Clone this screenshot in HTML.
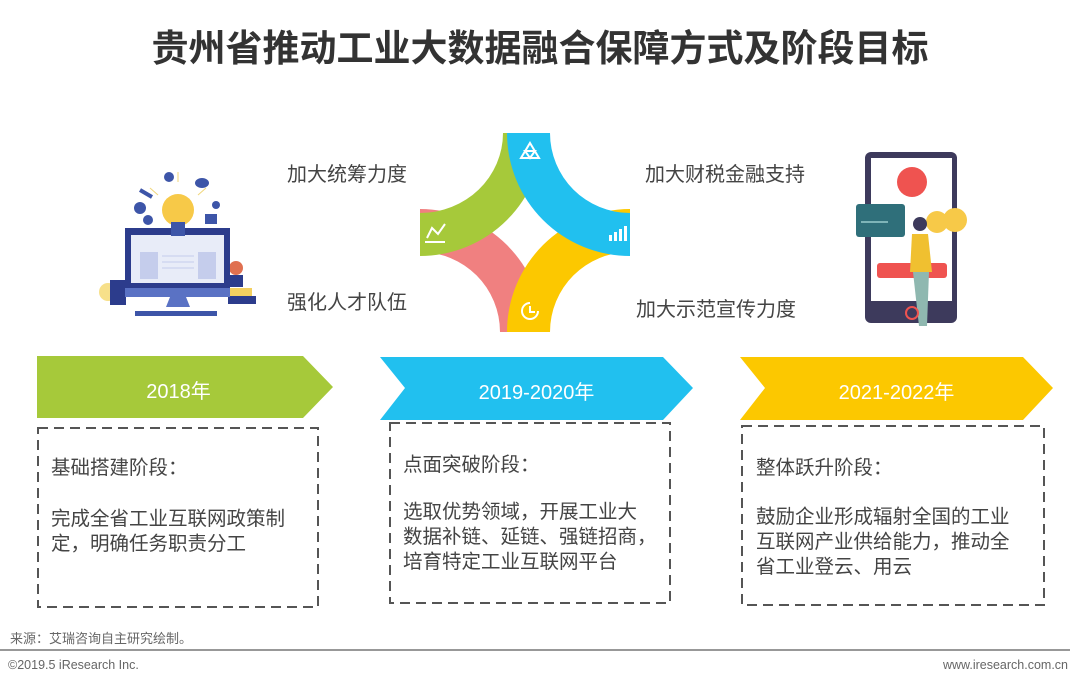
<!DOCTYPE html>
<html><head><meta charset="utf-8"><style>
body{margin:0;width:1080px;height:681px;background:#fff;position:relative;overflow:hidden;font-family:"Liberation Sans","Noto Sans CJK SC",sans-serif;color:#444}
.t{position:absolute;white-space:nowrap}
.lab{font-size:20px;color:#444}
.bx{font-size:19.5px;line-height:25px;color:#444}
</style></head><body>
<svg width="1080" height="681" style="position:absolute;left:0;top:0">
<defs><clipPath id="sq"><rect x="420" y="133" width="210" height="199"/></clipPath></defs>
<g clip-path="url(#sq)">
<path d="M420,252 A80 80 0 0 1 500,332 L543,332 A123 123 0 0 0 420,209 Z" fill="#f08080"/>
<path d="M630,252 A80 80 0 0 0 550,332 L507,332 A123 123 0 0 1 630,209 Z" fill="#fcc800"/>
<path d="M503,133 A83 80 0 0 1 420,213 L420,256 A123 123 0 0 0 543,133 Z" fill="#a6c93a"/>
<path d="M550,133 A80 80 0 0 0 630,213 L630,256 A123 123 0 0 1 507,133 Z" fill="#21c0ef"/>
</g>
<g stroke="#fff" stroke-width="2" fill="none">
<path d="M530,143 L539,158 L521,158 Z M525,151 L535,151 L530,158 Z"/>
<path d="M425,242 L445,242 M427,238 L432,228 L438,234 L445,224"/>
<path d="M530,303 A8 8 0 1 0 538,311 M530,306 L530,312 L535,312"/>
</g>
<g fill="#fff"><rect x="609" y="235" width="3" height="6"/><rect x="614" y="232" width="3" height="9"/><rect x="619" y="229" width="3" height="12"/><rect x="624" y="226" width="3" height="15"/></g>
<path d="M37,356 L303,356 L333,387 L303,418 L37,418 Z" fill="#a6c93a"/>
<path d="M380,357 L663,357 L693,388 L663,420 L380,420 L405,388 Z" fill="#21c0ef"/>
<path d="M740,357 L1023,357 L1053,388 L1023,420 L740,420 L765,388 Z" fill="#fcc800"/>
<g fill="none" stroke="#555" stroke-width="2" stroke-dasharray="10,6">
<rect x="38" y="428" width="280" height="179"/>
<rect x="390" y="423" width="280" height="180"/>
<rect x="742" y="426" width="302" height="179"/>
</g>
<line x1="0" y1="650" x2="1070" y2="650" stroke="#777" stroke-width="1.5"/>
<g>
<g stroke="#f0d67a" stroke-width="1"><line x1="178" y1="182" x2="178" y2="172"/><line x1="158" y1="195" x2="150" y2="188"/><line x1="198" y1="195" x2="206" y2="188"/></g>
<circle cx="169" cy="177" r="5" fill="#3d55a8"/><circle cx="140" cy="208" r="6" fill="#3d55a8"/><circle cx="148" cy="220" r="5" fill="#3d55a8"/>
<ellipse cx="202" cy="183" rx="7" ry="5" fill="#3d55a8"/><circle cx="216" cy="205" r="4" fill="#3d55a8"/>
<rect x="205" y="214" width="12" height="10" fill="#3d55a8"/>
<path d="M140,190 L152,197" stroke="#3d55a8" stroke-width="4"/>
<circle cx="108" cy="292" r="9" fill="#f7e08a"/>
<rect x="110" y="280" width="16" height="25" fill="#2c3c8c"/>
<rect x="229" y="275" width="14" height="12" fill="#2c3c8c"/><circle cx="236" cy="268" r="7" fill="#e07050"/>
<rect x="228" y="288" width="24" height="8" fill="#f3d060"/><rect x="228" y="296" width="28" height="8" fill="#2c3c8c"/>
<rect x="125" y="228" width="105" height="60" fill="#2c3c8c"/>
<rect x="131" y="235" width="93" height="48" fill="#e8ecf8"/>
<rect x="140" y="252" width="18" height="27" fill="#c5cdec"/><rect x="198" y="252" width="18" height="27" fill="#c5cdec"/>
<g stroke="#c5cdec"><line x1="162" y1="256" x2="194" y2="256"/><line x1="162" y1="262" x2="194" y2="262"/><line x1="162" y1="268" x2="194" y2="268"/></g>
<rect x="125" y="288" width="105" height="9" fill="#5a72c4"/>
<path d="M170,297 L186,297 L190,307 L166,307 Z" fill="#5a72c4"/>
<rect x="135" y="311" width="82" height="5" fill="#3d55a8"/>
<circle cx="178" cy="210" r="16" fill="#f7c948"/>
<rect x="171" y="222" width="14" height="14" fill="#3d55a8"/>
</g>
<g>
<rect x="865" y="152" width="92" height="171" rx="6" fill="#3d3a5c"/>
<rect x="871" y="158" width="81" height="143" fill="#fff"/>
<circle cx="912" cy="182" r="15" fill="#ef5350"/>
<rect x="856" y="204" width="49" height="33" rx="3" fill="#2f6f7a"/>
<line x1="861" y1="222" x2="888" y2="222" stroke="#9cc" stroke-width="1.5"/>
<rect x="877" y="263" width="70" height="15" rx="3" fill="#ef5350"/>
<circle cx="937" cy="222" r="11" fill="#f7c948"/><circle cx="955" cy="220" r="12" fill="#f7c948"/>
<circle cx="920" cy="224" r="7" fill="#3d3a5c"/>
<path d="M912,234 L928,234 L932,272 L910,272 Z" fill="#f0c030"/>
<path d="M913,272 L929,272 L927,326 L919,326 Z" fill="#8fb8b0"/>
<circle cx="912" cy="313" r="6" fill="none" stroke="#ef5350" stroke-width="2"/>
</g>
</svg>
<div class="t" style="left:0;width:1080px;text-align:center;top:18px;font-size:37px;font-weight:bold;color:#333">贵州省推动工业大数据融合保障方式及阶段目标</div>
<div class="t lab" style="left:287px;top:158px">加大统筹力度</div>
<div class="t lab" style="left:287px;top:286px">强化人才队伍</div>
<div class="t lab" style="left:645px;top:158px">加大财税金融支持</div>
<div class="t lab" style="left:636px;top:293px">加大示范宣传力度</div>
<div class="t" style="left:37px;width:283px;text-align:center;top:375px;font-size:20px;color:#fff">2018年</div>
<div class="t" style="left:395px;width:283px;text-align:center;top:376px;font-size:20px;color:#fff">2019-2020年</div>
<div class="t" style="left:755px;width:283px;text-align:center;top:376px;font-size:20px;color:#fff">2021-2022年</div>
<div class="t bx" style="left:51px;top:456px">基础搭建阶段：</div>
<div class="t bx" style="left:51px;top:507px">完成全省工业互联网政策制<br>定，明确任务职责分工</div>
<div class="t bx" style="left:403px;top:453px">点面突破阶段：</div>
<div class="t bx" style="left:403px;top:500px">选取优势领域，开展工业大<br>数据补链、延链、强链招商，<br>培育特定工业互联网平台</div>
<div class="t bx" style="left:756px;top:456px">整体跃升阶段：</div>
<div class="t bx" style="left:756px;top:505px">鼓励企业形成辐射全国的工业<br>互联网产业供给能力，推动全<br>省工业登云、用云</div>
<div class="t" style="left:10px;top:628px;font-size:13px;color:#666">来源：艾瑞咨询自主研究绘制。</div>
<div class="t" style="left:8px;top:658px;font-size:12.5px;color:#666">©2019.5 iResearch Inc.</div>
<div class="t" style="right:12px;top:658px;font-size:12.5px;color:#666">www.iresearch.com.cn</div>
</body></html>
